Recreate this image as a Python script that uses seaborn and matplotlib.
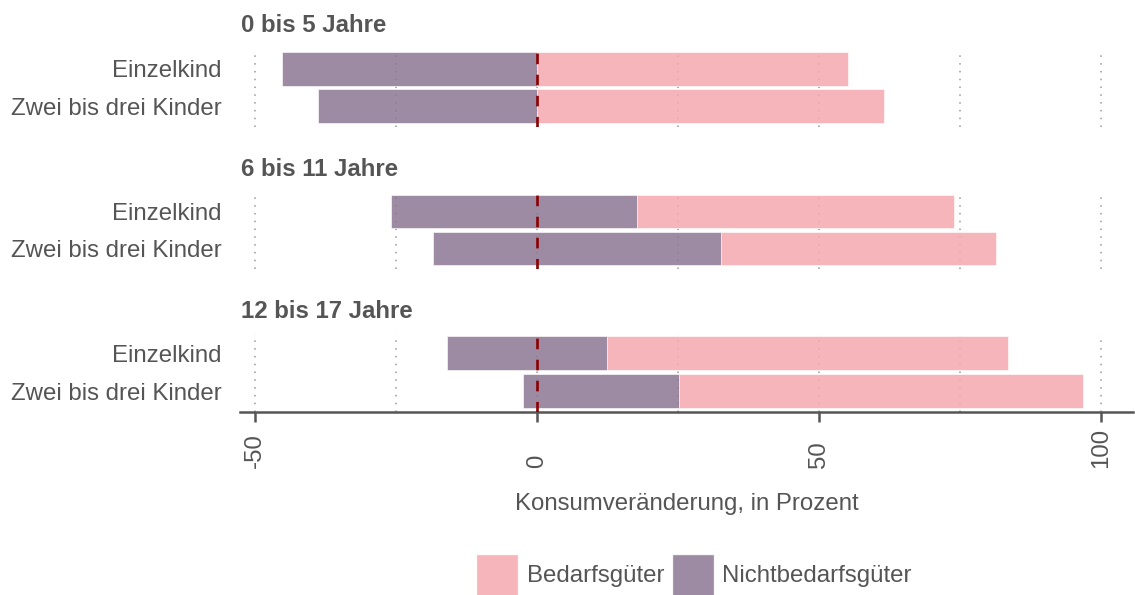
import matplotlib
matplotlib.use("Agg")
import matplotlib.pyplot as plt
from matplotlib.patches import Patch
import seaborn as sns
import pandas as pd

# Daten
gruppen = ["0 bis 5 Jahre", "6 bis 11 Jahre", "12 bis 17 Jahre"]
kinder = ["Einzelkind", "Zwei bis drei Kinder"]
nicht_von = [[-45.2, -38.8], [-25.9, -18.5], [-16.0, -2.5]]
nicht_bis = [[0.0, 0.0], [17.7, 32.6], [12.4, 25.1]]
bedarf_bis = [[55.1, 61.5], [73.9, 81.3], [83.5, 96.8]]
x_ticks = [-50, 0, 50, 100]
x_grid = [-50, -25, 0, 25, 50, 75, 100]

pink = "#F4A8AE"
lila = "#8C7693"
grau = "#555555"
alpha = 0.85
fs = 17.3

sns.set_theme(style="white")
plt.rcParams["font.family"] = ["Liberation Sans", "DejaVu Sans"]

W, H = 1135, 595
fig = plt.figure(figsize=(W / 100, H / 100), dpi=100)

# Panelgrenzen in Pixeln (oben, unten)
panels = [(50, 127), (193, 269), (334, 412)]
title_base = [32, 176, 318]
x0, x1 = 240, 1133
xlim = ((x0 - 537) / 5.64, (x1 - 537) / 5.64)

for i, g in enumerate(gruppen):
    top, bot = panels[i]
    ax = fig.add_axes([x0 / W, 1 - bot / H, (x1 - x0) / W, (bot - top) / H])
    df = pd.DataFrame({
        "kind": kinder,
        "nv": nicht_von[i],
        "nb": nicht_bis[i],
        "bb": bedarf_bis[i],
    })
    df["bedarf_w"] = df["bb"] - df["nb"]
    df["nicht_w"] = df["nb"] - df["nv"]

    sns.barplot(data=df, x="bedarf_w", y="kind", left=df["nb"].tolist(),
                color=pink, alpha=alpha, width=0.9, saturation=1,
                edgecolor="white", linewidth=0.5, ax=ax, zorder=2)
    sns.barplot(data=df, x="nicht_w", y="kind", left=df["nv"].tolist(),
                color=lila, alpha=alpha, width=0.9, saturation=1,
                edgecolor="white", linewidth=0.5, ax=ax, zorder=2)

    for gx in x_grid:
        ax.axvline(gx, color="#999999", lw=1.1, ls=(0, (1, 4.1)), zorder=1)
    ax.axvline(0, color="#8B0000", lw=1.9, ls=(0, (4, 4)), zorder=3)

    ax.set_xlim(*xlim)
    ax.set_ylim(1.55, -0.5)
    ax.set_xlabel("")
    ax.set_ylabel("")
    ax.tick_params(axis="y", length=0, pad=13, labelsize=fs, labelcolor=grau)
    sns.despine(ax=ax, left=True, top=True, right=True, bottom=(i < 2))
    if i < 2:
        ax.set_xticks([])
    else:
        ax.set_xticks(x_ticks)
        ax.set_xticklabels([str(t) for t in x_ticks], rotation=90, va="bottom")
        ax.spines["bottom"].set_color(grau)
        ax.spines["bottom"].set_linewidth(1.8)
        ax.tick_params(axis="x", length=7.5, width=1.8, color=grau, direction="out",
                       bottom=True, pad=33, labelsize=fs, labelcolor=grau)

    fig.text(241 / W, 1 - title_base[i] / H, g, fontsize=fs, fontweight="bold",
             color=grau, ha="left", va="baseline")

fig.text(686.5 / W, 1 - 510 / H, "Konsumveränderung, in Prozent", fontsize=fs,
         color=grau, ha="center", va="baseline")

handles = [Patch(facecolor=pink, alpha=alpha, label="Bedarfsgüter"),
           Patch(facecolor=lila, alpha=alpha, label="Nichtbedarfsgüter")]
leg = fig.legend(handles=handles, loc="center", bbox_to_anchor=(694 / W, 1 - 575 / H),
                 ncol=2, frameon=False, fontsize=fs, handlelength=1.75,
                 handleheight=2.3, handletextpad=0.35, columnspacing=0.3,
                 borderpad=0)
for t in leg.get_texts():
    t.set_color(grau)

fig.savefig("out.png", dpi=100)
